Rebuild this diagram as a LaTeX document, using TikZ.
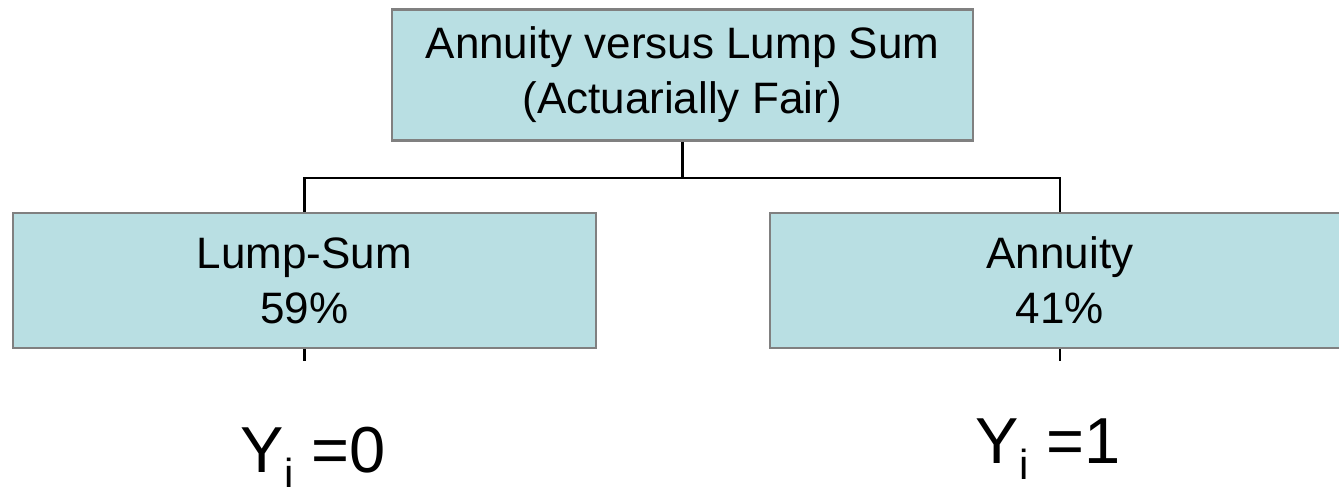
\documentclass[tikz,border=0pt]{standalone}
\usepackage{fontspec}
\setmainfont{Liberation Sans}
\definecolor{boxfill}{RGB}{185,223,227}
\definecolor{boxline}{RGB}{128,128,128}
\tikzset{
  x=1pt, y=-1pt,
  choice/.style={draw=boxline, line width=2.6pt, fill=boxfill, align=center,
    inner sep=0pt, font=\fontsize{44}{55}\selectfont},
  link/.style={draw=black, line width=2.4pt},
  outcome/.style={anchor=base, inner sep=0pt, font=\fontsize{65}{65}\selectfont},
}
\newcommand{\subi}{\kern1pt{\fontsize{42}{42}\selectfont\raisebox{-16pt}{i}}}
\begin{document}
\begin{tikzpicture}
  \clip (0,0) rectangle (1339,487);
  \fill[white] (0,0) rectangle (1339,487);

  % decision boxes
  \node[choice, minimum width=581pt, minimum height=131pt] (top) at (682.5,75)
    {Annuity versus Lump Sum\\(Actuarially Fair)};
  \node[choice, minimum width=583pt, minimum height=135pt] (lump) at (304.5,280.5)
    {Lump-Sum\\59\%};
  \node[choice, minimum width=580pt, minimum height=135pt] (ann) at (1060,280.5)
    {Annuity\\41\%};

  % tree connectors
  \coordinate (fork) at (682.5,178);
  \draw[link] (top.south) -- (fork);
  \draw[link] (fork) -| (lump.north);
  \draw[link] (fork) -| (ann.north);

  % stubs below the boxes
  \coordinate (lumpend) at (lump.south |- 0,361);
  \coordinate (annend) at (ann.south |- 0,361);
  \draw[link] (lump.south) -- (lumpend);
  \draw[link] (ann.south) -- (annend);

  % outcome labels
  \node[outcome] (y0) at (313,472) {Y\subi\ =0};
  \node[outcome] (y1) at (1048,463) {Y\subi\ =1};
\end{tikzpicture}
\end{document}
